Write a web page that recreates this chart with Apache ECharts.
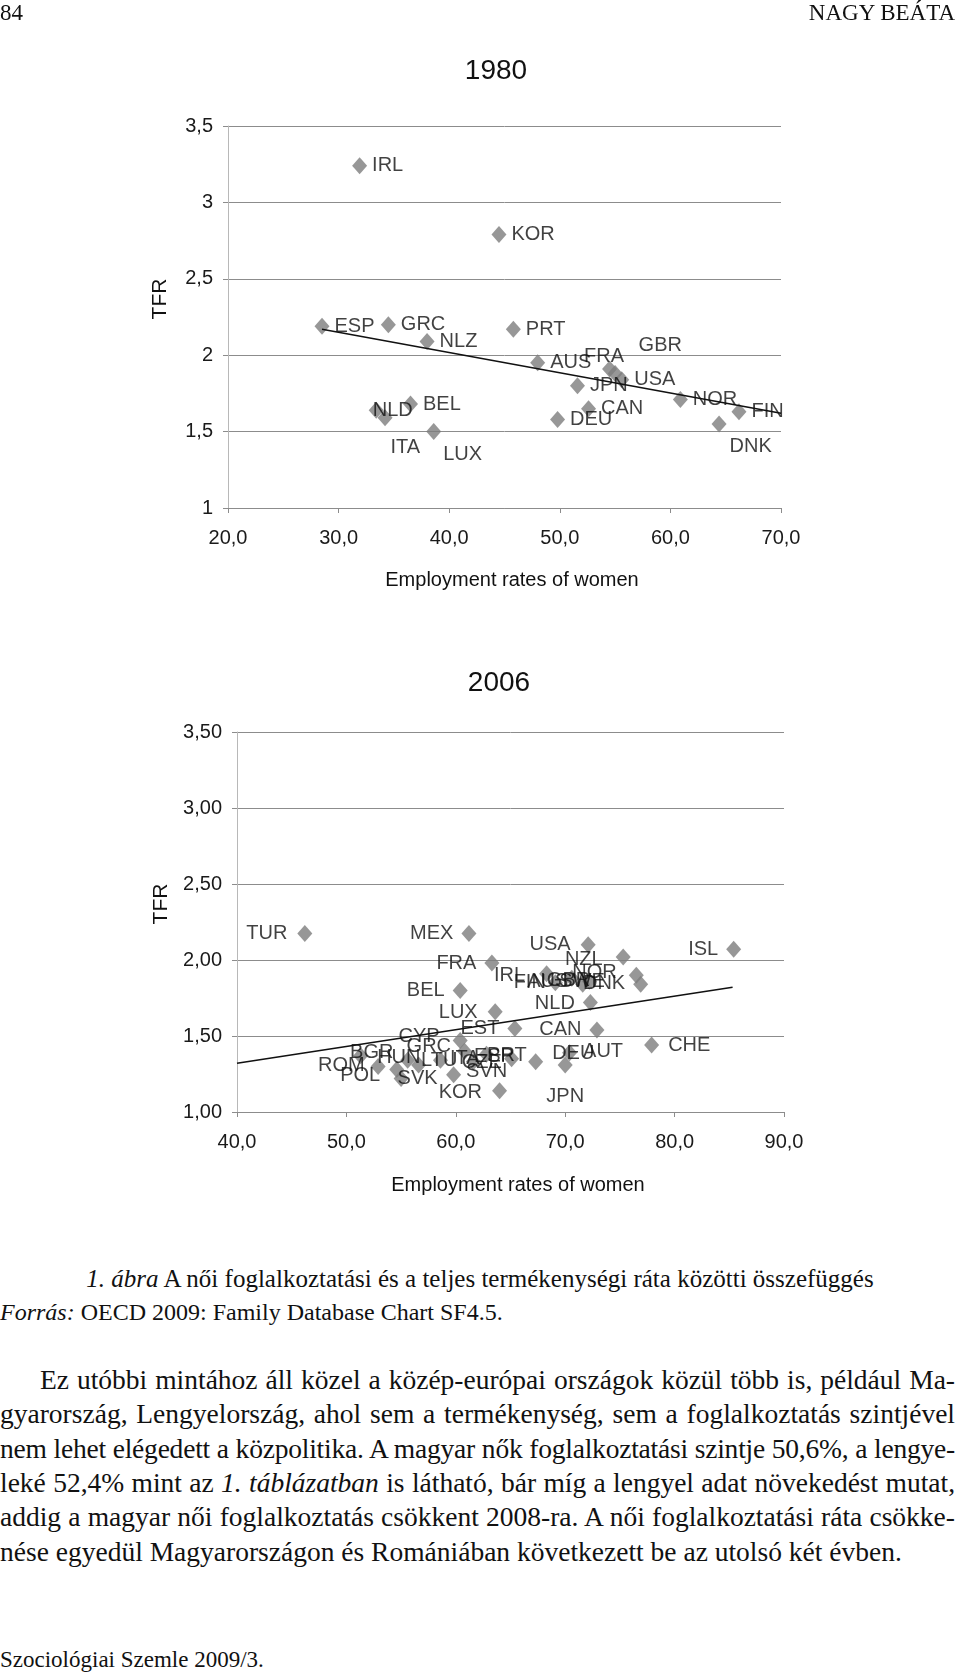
<!DOCTYPE html>
<html>
<head>
<meta charset="utf-8">
<script src="https://cdn.jsdelivr.net/npm/echarts@6/dist/echarts.min.js"></script>
<style>
html,body{margin:0;padding:0;background:#fff;}
#page{position:relative;width:960px;height:1672px;overflow:hidden;font-family:'Liberation Serif','Times New Roman',serif;color:#111;}
#chart{position:absolute;left:0;top:0;width:960px;height:1240px;}
.t{position:absolute;white-space:nowrap;}
.pl{position:absolute;white-space:nowrap;font-size:27.5px;line-height:34px;height:34px;text-align:justify;text-align-last:justify;}
</style>
</head>
<body>
<div id="page">
  <div id="chart"></div>
  <div class="t" style="left:0;top:2px;font-size:23px;line-height:22px;">84</div>
  <div class="t" style="right:5px;top:2px;font-size:23px;line-height:22px;">NAGY BEÁTA</div>
  <div class="t" style="left:0;width:960px;text-align:center;top:1265px;font-size:25px;line-height:28px;"><i>1. ábra</i> A női foglalkoztatási és a teljes termékenységi ráta közötti összefüggés</div>
  <div class="t" style="left:0;top:1298px;font-size:24px;line-height:28px;"><i>Forrás:</i> OECD 2009: Family Database Chart SF4.5.</div>
  <div class="pl" style="left:40px;width:915px;top:1363px;">Ez utóbbi mintához áll közel a közép-európai országok közül több is, például Ma-</div>
  <div class="pl" style="left:0;width:955px;top:1397px;">gyarország, Lengyelország, ahol sem a termékenység, sem a foglalkoztatás szintjével</div>
  <div class="pl" style="left:0;width:955px;top:1432px;">nem lehet elégedett a közpolitika. A magyar nők foglalkoztatási szintje 50,6%, a lengye-</div>
  <div class="pl" style="left:0;width:955px;top:1466px;">leké 52,4% mint az <i>1. táblázatban</i> is látható, bár míg a lengyel adat növekedést mutat,</div>
  <div class="pl" style="left:0;width:955px;top:1500px;">addig a magyar női foglalkoztatás csökkent 2008-ra. A női foglalkoztatási ráta csökke-</div>
  <div class="pl last" style="left:0;top:1535px;text-align:left;text-align-last:left;">nése egyedül Magyarországon és Romániában következett be az utolsó két évben.</div>
  <div class="t" style="left:0;top:1649px;font-size:23px;line-height:22px;">Szociológiai Szemle 2009/3.</div>
</div>
<script>
// ---------------- DATA ----------------
const titles = ['1980', '2006'];

const countries1980 = ['IRL','KOR','ESP','GRC','NLZ','PRT','AUS','FRA','GBR','USA','JPN','CAN','DEU','NOR','FIN','DNK','NLD','ITA','BEL','LUX'];
const employment1980 = [31.9, 44.5, 28.5, 34.5, 38.0, 45.8, 48.0, 54.5, 55.0, 55.6, 51.6, 52.6, 49.8, 60.9, 66.2, 64.4, 33.4, 34.2, 36.5, 38.6];
const tfr1980 = [3.24, 2.79, 2.19, 2.20, 2.09, 2.17, 1.95, 1.91, 1.88, 1.84, 1.80, 1.65, 1.58, 1.71, 1.63, 1.55, 1.64, 1.59, 1.68, 1.50];
const trendX1980 = [28.5, 70.0];
const trendY1980 = [2.17, 1.62];

const countries2006 = ['TUR','MEX','USA','NZL','ISL','FRA','IRL','FIN','AUS','GBR','SWE','NOR','DNK','BEL','NLD','LUX','EST','CAN','CHE','KOR','JPN','CYP','GRC','BGR','ROM','POL','SVK','HUN','LTU','ITA','SVN','CZE','ESP','PRT','DEU','AUT'];
const employment2006 = [46.2, 61.2, 72.1, 75.3, 85.4, 63.3, 68.3, 69.1, 70.6, 71.6, 72.2, 76.5, 76.9, 60.4, 72.3, 63.6, 65.4, 72.9, 77.9, 64.0, 70.0, 60.4, 60.8, 51.3, 52.9, 54.6, 55.0, 55.6, 56.6, 58.6, 59.8, 61.6, 62.8, 65.1, 67.3, 70.4];
const tfr2006 = [2.175, 2.175, 2.10, 2.02, 2.07, 1.98, 1.91, 1.85, 1.88, 1.84, 1.86, 1.90, 1.84, 1.80, 1.72, 1.66, 1.55, 1.54, 1.44, 1.14, 1.31, 1.47, 1.40, 1.37, 1.30, 1.28, 1.22, 1.34, 1.31, 1.34, 1.245, 1.33, 1.38, 1.35, 1.33, 1.39];
const trendX2006 = [40.0, 85.3];
const trendY2006 = [1.32, 1.82];

const xTicks1980 = ['20,0','30,0','40,0','50,0','60,0','70,0'];
const yTicks1980 = ['1','1,5','2','2,5','3','3,5'];
const xTicks2006 = ['40,0','50,0','60,0','70,0','80,0','90,0'];
const yTicks2006 = ['1,00','1,50','2,00','2,50','3,00','3,50'];
const xTitle = 'Employment rates of women';
const yTitle = 'TFR';

// ---------------- LABEL PLACEMENT (style only) ----------------
const labelPlace1980 = {
  FRA: ['right', -38, -12], GBR: ['right', 11, -28], DNK: ['right', -2, 23],
  NLD: ['right', -16, 0], ITA: ['right', -7, 30], LUX: ['right', -3, 23]
};
const labelPlace2006 = {
  TUR: ['left', -5, 0], MEX: ['left', -3, 0], USA: ['left', -5, 0], NZL: ['left', -8, 3], ISL: ['left', -3, 0],
  FRA: ['left', -3, 0], IRL: ['left', -9, 2], FIN: ['left', 3, 0], AUS: ['left', 9, 3], GBR: ['left', 20, -4],
  SWE: ['left', 28, 0], NOR: ['left', -7, -3], DNK: ['left', -3, -1], BEL: ['left', -3, 0], NLD: ['left', -3, 1],
  LUX: ['left', -5, 1], EST: ['left', -3, 0], CAN: ['left', -3, 0], CHE: ['right', 4, 0], KOR: ['left', -5, 2],
  JPN: ['bottom', 0, 8], CYP: ['left', -8, -4], GRC: ['left', -1, -5], BGR: ['right', -23, -3], ROM: ['left', -1, -1],
  POL: ['left', -4, 6], SVK: ['right', -16, 0], HUN: ['right', -43, -3], LTU: ['right', -10, -4], ITA: ['right', -3, -2],
  SVN: ['right', 0, -3], CZE: ['right', -24, 1], ESP: ['right', -25, 2], PRT: ['right', -37, -3], DEU: ['right', 4, -8],
  AUT: ['right', 1, -1]
};

const F = "'Liberation Sans', Arial, sans-serif";
const MARK = '#7d7d7d';
const GRIDC = '#8c8c8c';

function points(names, xs, ys, place) {
  return names.map(function (n, i) {
    const p = place[n] || ['right', 0, 0];
    return { name: n, value: [xs[i], ys[i]], label: { position: p[0], offset: [p[1], p[2]] } };
  });
}
function pairs(xs, ys) { return xs.map(function (x, i) { return [x, ys[i]]; }); }

function xAxis(gi, min, max, ticks, gap) {
  return {
    gridIndex: gi, type: 'value', min: min, max: max, interval: 10,
    name: xTitle, nameLocation: 'middle', nameGap: gap,
    nameTextStyle: { fontFamily: F, fontSize: 20, color: '#111', padding: [0, 0, 0, 15] },
    axisLine: { show: true, onZero: false, lineStyle: { color: GRIDC, width: 1 } },
    axisTick: { show: true, length: 5, lineStyle: { color: GRIDC } },
    axisLabel: { margin: 20, fontFamily: F, fontSize: 20, color: '#1a1a1a',
      formatter: function (v) { return ticks[Math.round((v - min) / 10)]; } },
    splitLine: { show: false }
  };
}
function yAxis(gi, ticks) {
  return {
    gridIndex: gi, type: 'value', min: 1, max: 3.5, interval: 0.5,
    name: yTitle, nameLocation: 'middle', nameGap: 57, nameRotate: 90,
    nameTextStyle: { fontFamily: F, fontSize: 21, color: '#111', padding: [0, 0, 0, 36] },
    axisLine: { show: true, lineStyle: { color: '#b8b8b8', width: 1 } },
    axisTick: { show: true, length: 5, lineStyle: { color: GRIDC } },
    axisLabel: { margin: 15, fontFamily: F, fontSize: 20, color: '#1a1a1a',
      formatter: function (v) { return ticks[Math.round((v - 1) / 0.5)]; } },
    splitLine: { show: true, lineStyle: { color: GRIDC, width: 1 } }
  };
}
function scatter(i, data) {
  return {
    type: 'scatter', xAxisIndex: i, yAxisIndex: i, symbol: 'diamond', symbolSize: [15, 17],
    itemStyle: { color: MARK }, z: 3, silent: true,
    label: { show: true, formatter: '{b}', distance: 5, fontFamily: F, fontSize: 20, color: '#111' },
    data: data
  };
}
function trend(i, data) {
  return {
    type: 'line', xAxisIndex: i, yAxisIndex: i, data: data, showSymbol: false, symbol: 'none',
    lineStyle: { color: '#111', width: 1.5 }, z: 4, silent: true
  };
}

const chart = echarts.init(document.getElementById('chart'), null, { renderer: 'canvas' });
chart.setOption({
  animation: false,
  backgroundColor: 'transparent',
  title: [
    { text: titles[0], left: 496, top: 57, textAlign: 'center', padding: 0,
      textStyle: { fontFamily: F, fontSize: 28, fontWeight: 'normal', color: '#111' } },
    { text: titles[1], left: 499, top: 669, textAlign: 'center', padding: 0,
      textStyle: { fontFamily: F, fontSize: 28, fontWeight: 'normal', color: '#111' } }
  ],
  grid: [
    { left: 228, top: 126, width: 553, height: 382 },
    { left: 237, top: 732, width: 547, height: 380 }
  ],
  xAxis: [xAxis(0, 20, 70, xTicks1980, 62), xAxis(1, 40, 90, xTicks2006, 63)],
  yAxis: [yAxis(0, yTicks1980), yAxis(1, yTicks2006)],
  series: [
    scatter(0, points(countries1980, employment1980, tfr1980, labelPlace1980)),
    trend(0, pairs(trendX1980, trendY1980)),
    scatter(1, points(countries2006, employment2006, tfr2006, labelPlace2006)),
    trend(1, pairs(trendX2006, trendY2006))
  ]
});

// fit justified paragraph lines whose natural width exceeds the column
document.querySelectorAll('.pl:not(.last)').forEach(function (el) {
  const target = el.clientWidth;
  const probe = document.createElement('span');
  probe.style.cssText = 'position:absolute;visibility:hidden;white-space:nowrap;font-size:27.5px;font-family:inherit;';
  probe.innerHTML = el.innerHTML;
  document.getElementById('page').appendChild(probe);
  const natural = probe.getBoundingClientRect().width;
  const chars = el.textContent.length;
  probe.remove();
  if (natural > target - 2) {
    el.style.letterSpacing = ((target - 2 - natural) / chars).toFixed(3) + 'px';
  }
});
</script>
</body>
</html>
